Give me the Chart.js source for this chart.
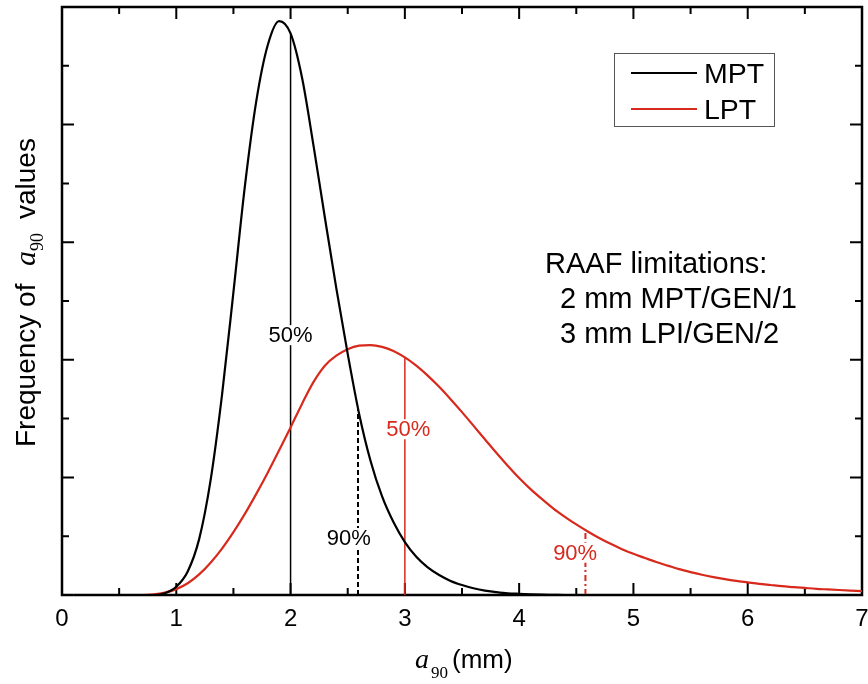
<!DOCTYPE html>
<html>
<head>
<meta charset="utf-8">
<script src="https://cdn.jsdelivr.net/npm/chart.js@4.4.1/dist/chart.umd.min.js"></script>
<style>
    html, body { margin: 0; padding: 0; background: #fff; }
    #wrap { position: relative; width: 868px; height: 684px; }
</style>
</head>
<body>
<div id="wrap"><canvas id="myChart"></canvas></div>
<script>
// a90 sizes (mm)
const sizes = [0.1, 0.2, 0.3, 0.4, 0.5, 0.6, 0.7, 0.8, 0.9, 1.0,
    1.1, 1.2, 1.3, 1.4, 1.5, 1.6, 1.7, 1.8, 1.9, 2.0,
    2.1, 2.2, 2.3, 2.4, 2.5, 2.6, 2.7, 2.8, 2.9, 3.0,
    3.1, 3.2, 3.3, 3.4, 3.5, 3.6, 3.7, 3.8, 3.9, 4.0,
    4.1, 4.2, 4.3, 4.4, 4.5, 4.6, 4.7, 4.8, 4.9, 5.0,
    5.1, 5.2, 5.3, 5.4, 5.5, 5.6, 5.7, 5.8, 5.9, 6.0,
    6.1, 6.2, 6.3, 6.4, 6.5, 6.6, 6.7, 6.8, 6.9, 7.0]
const mpt = [0, 0, 0, 0, 0, 0, 0, 0, 0.03, 0.14,
    0.4, 0.95, 1.95, 3.4, 5.15, 6.95, 8.4, 9.35, 9.76, 9.55,
    8.8, 7.65, 6.42, 5.22, 4.1, 3.08, 2.28, 1.68, 1.24, 0.9,
    0.65, 0.47, 0.34, 0.24, 0.17, 0.115, 0.075, 0.05, 0.03, 0.02,
    0.012, 0.006, 0.003, 0, 0, 0, 0, 0, 0, 0,
    0, 0, 0, 0, 0, 0, 0, 0, 0, 0,
    0, 0, 0, 0, 0, 0, 0, 0, 0, 0]
const lpt = [0, 0, 0, 0, 0, 0, 0, 0.01, 0.04, 0.1,
    0.2, 0.35, 0.55, 0.79, 1.07, 1.38, 1.72, 2.08, 2.46, 2.85,
    3.25, 3.62, 3.9, 4.07, 4.18, 4.24, 4.25, 4.22, 4.15, 4.04,
    3.9, 3.73, 3.54, 3.33, 3.11, 2.88, 2.65, 2.42, 2.2, 1.99,
    1.8, 1.63, 1.47, 1.33, 1.2, 1.08, 0.97, 0.87, 0.78, 0.7,
    0.63, 0.56, 0.5, 0.44, 0.39, 0.345, 0.305, 0.27, 0.24, 0.215,
    0.19, 0.17, 0.15, 0.135, 0.12, 0.105, 0.095, 0.085, 0.075, 0.065]
// 50% / 90% marks: MPT 50, MPT 90, LPT 50, LPT 90
const markX = [2.0, 2.59, 3.0, 4.58]
const markTop = [9.55, 3.18, 4.04, 1.06]
const markText = ['50%', '90%', '50%', '90%']
const xTicks = [0, 1, 2, 3, 4, 5, 6, 7]

const BLACK = '#000000'
const RED = '#d8291d'
const SANS = '"Liberation Sans", Arial, sans-serif'
const SERIF = '"Liberation Serif", "Times New Roman", serif'

const toPoints = (xs, ys) => xs.map((x, i) => ({ x: x, y: ys[i] }))

const markLine = (i, color, dash, width) => ({
    label: 'mark' + i,
    data: [{ x: markX[i], y: 0 }, { x: markX[i], y: markTop[i] }],
    borderColor: color,
    borderWidth: width,
    borderDash: dash,
    pointRadius: 0,
    fill: false
})

// where the % labels sit (data units) and their colours
const markLabelPos = [
    { x: 2.0, y: 4.3, color: BLACK },
    { x: 2.51, y: 0.85, color: BLACK },
    { x: 3.03, y: 2.7, color: RED },
    { x: 4.49, y: 0.6, color: RED }
]

const frameTicks = {
    id: 'frameTicks',
    beforeDatasetsDraw(chart) {
        const { ctx, chartArea: a, scales } = chart
        ctx.save()
        ctx.strokeStyle = '#000'
        ctx.lineWidth = 2
        scales.x.ticks.forEach(t => {
            const px = scales.x.getPixelForValue(t.value)
            const len = Number.isInteger(t.value) ? 12 : 7
            ctx.beginPath()
            ctx.moveTo(px, a.bottom); ctx.lineTo(px, a.bottom - len)
            ctx.moveTo(px, a.top); ctx.lineTo(px, a.top + len)
            ctx.stroke()
        })
        scales.y.ticks.forEach(t => {
            const py = scales.y.getPixelForValue(t.value)
            const len = t.value % 2 === 0 ? 12 : 7
            ctx.beginPath()
            ctx.moveTo(a.left, py); ctx.lineTo(a.left + len, py)
            ctx.moveTo(a.right, py); ctx.lineTo(a.right - len, py)
            ctx.stroke()
        })
        ctx.lineWidth = 2.5
        ctx.strokeRect(a.left, a.top, a.right - a.left, a.bottom - a.top)
        ctx.restore()
    },
    afterDatasetsDraw(chart) {
        const { ctx, scales } = chart
        const x = scales.x, y = scales.y
        ctx.save()
        // % labels
        ctx.font = '22px ' + SANS
        ctx.textAlign = 'center'
        ctx.textBaseline = 'alphabetic'
        markLabelPos.forEach((p, i) => {
            const w = ctx.measureText(markText[i]).width
            const px = x.getPixelForValue(p.x), py = y.getPixelForValue(p.y)
            ctx.fillStyle = '#fff'
            ctx.fillRect(px - w / 2 - 1, py - 17, w + 2, 20)
            ctx.fillStyle = p.color
            ctx.fillText(markText[i], px, py)
        })

        // legend box
        ctx.textAlign = 'left'
        ctx.strokeStyle = '#555'
        ctx.lineWidth = 1
        ctx.strokeRect(614.5, 53.5, 160, 73)
        ctx.font = '28.5px ' + SANS
        chart.data.datasets.slice(0, 2).forEach((ds, i) => {
            const ly = 73 + i * 36
            ctx.strokeStyle = ds.borderColor
            ctx.lineWidth = 2
            ctx.beginPath(); ctx.moveTo(631, ly); ctx.lineTo(697, ly); ctx.stroke()
            ctx.fillStyle = '#000'
            ctx.fillText(ds.label, 704, ly + 10)
        })

        // RAAF note
        ctx.font = '29px ' + SANS
        ctx.fillText('RAAF limitations:', 545, 273)
        ctx.fillText('2 mm MPT/GEN/1', 560, 308)
        ctx.fillText('3 mm LPI/GEN/2', 560, 343)

        // x title
        ctx.font = 'italic 28px ' + SERIF
        ctx.fillText('a', 415, 668)
        ctx.font = '17px ' + SERIF
        ctx.fillText('90', 431, 678)
        ctx.font = '26px ' + SANS
        ctx.fillText('(mm)', 452, 668)

        // y title
        ctx.translate(35, 447)
        ctx.rotate(-Math.PI / 2)
        ctx.font = '28px ' + SANS
        ctx.fillText('Frequency of', 0, 0)
        let off = ctx.measureText('Frequency of  ').width + 2
        ctx.font = 'italic 30px ' + SERIF
        ctx.fillText('a', off, 0)
        off += ctx.measureText('a').width
        ctx.font = '18px ' + SERIF
        ctx.fillText('90', off, 8)
        off += ctx.measureText('90').width + 14
        ctx.font = '28px ' + SANS
        ctx.fillText('values', off, 0)
        ctx.restore()
    }
}

new Chart('myChart', {
    type: 'line',
    data: {
        datasets: [{
            label: 'MPT',
            data: toPoints(sizes, mpt),
            borderColor: BLACK,
            borderWidth: 2.2,
            pointRadius: 0,
            cubicInterpolationMode: 'monotone',
            clip: false
        }, {
            label: 'LPT',
            data: toPoints(sizes, lpt),
            borderColor: RED,
            borderWidth: 2.2,
            pointRadius: 0,
            cubicInterpolationMode: 'monotone',
            clip: false
        },
        markLine(0, BLACK, [], 1.5),
        markLine(1, BLACK, [5, 3], 2),
        markLine(2, RED, [], 1.5),
        markLine(3, RED, [6, 3, 2, 3], 2)]
    },
    options: {
        responsive: true,
        maintainAspectRatio: false,
        animation: false,
        layout: { padding: { left: 0, right: 6, top: 7, bottom: 0 } },
        plugins: {
            legend: { display: false },
            tooltip: { enabled: false }
        },
        scales: {
            x: {
                type: 'linear',
                min: 0,
                max: 7,
                grid: { display: false, drawTicks: false },
                border: { display: false },
                ticks: {
                    stepSize: 0.5,
                    padding: 10,
                    color: '#000',
                    font: { family: SANS, size: 24 },
                    callback: v => xTicks.includes(v) ? String(v) : ''
                },
                afterFit: s => {
                    s.height = 89
                    s.paddingLeft = 0
                    s.paddingRight = 0
                }
            },
            y: {
                min: 0,
                max: 10,
                grid: { display: false, drawTicks: false },
                border: { display: false },
                ticks: { stepSize: 1, display: false },
                afterFit: s => { s.width = 62 }
            }
        }
    },
    plugins: [frameTicks]
})
</script>
</body>
</html>
